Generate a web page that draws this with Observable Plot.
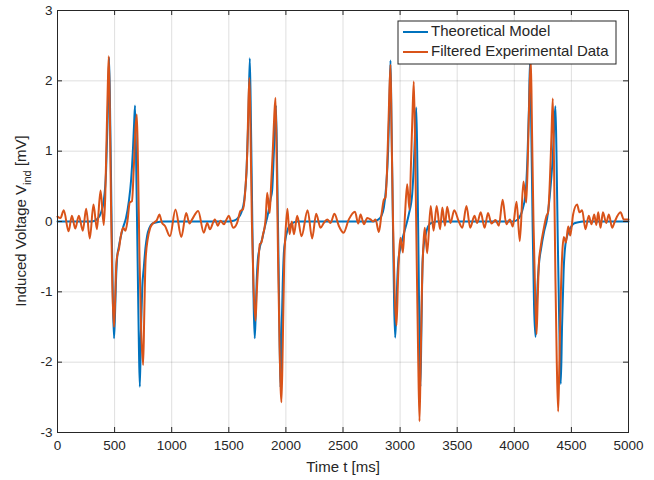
<!DOCTYPE html>
<html><head><meta charset="utf-8">
<script src="https://cdn.jsdelivr.net/npm/d3@7"></script>
<script src="https://cdn.jsdelivr.net/npm/@observablehq/plot@0.6"></script>
<style>
body{margin:0;background:#fff;}
#chart{width:654px;height:480px;}
svg{font-family:"Liberation Sans",Arial,Helvetica,sans-serif;}
</style></head><body><div id="chart"></div>
<script>
// ---- data ----
const seriesNames = ["Theoretical Model", "Filtered Experimental Data"];
const seriesColors = ["#0072BD", "#D95319"];
const xTicks = [0, 500, 1000, 1500, 2000, 2500, 3000, 3500, 4000, 4500, 5000];
const yTicks = [-3, -2, -1, 0, 1, 2, 3];
const xLabel = "Time t [ms]";

const modelTime = [0,300,345,380,405,425,440,452,462,474,486,495,504,512,522,537,552,575,600,625,645,660,671,679,690,702,713,721,730,742,756,770,785,805,830,870,920,
1500,1540,1575,1610,1635,1655,1672,1684,1694,1706,1718,1727,1736,1744,1754,1770,1792,1815,1835,1851,1866,1880,1895,1905,1913,1924,1936,1946,1953,1962,1972,1982,1996,2011,2030,2060,2100,
2760,2800,2837,2858,2878,2895,2907,2916,2925,2937,2948,2957,2966,2975,2985,3000,3020,3045,3076,3106,3120,3132,3142,3152,3162,3171,3178,3187,3196,3210,3225,3245,3275,3320,
3990,4030,4069,4098,4115,4128,4138,4148,4160,4173,4186,4195,4204,4215,4235,4260,4288,4317,4336,4348,4360,4369,4380,4393,4407,4418,4432,4448,4470,4492,4520,4560,4600,5000];
const modelVoltage = [0,0,0.03,0.12,0.3,0.7,1.5,2.33,1.4,0,-1.2,-1.66,-1.3,-0.85,-0.52,-0.36,-0.23,-0.08,0.05,0.29,0.6,1.0,1.4,1.65,0.7,-0.6,-1.8,-2.35,-1.6,-0.95,-0.65,-0.38,-0.2,-0.09,-0.03,-0.01,0,
0,0.01,0.04,0.13,0.3,0.7,1.5,2.32,1.4,0,-1.2,-1.66,-1.3,-0.85,-0.55,-0.38,-0.25,-0.08,0.05,0.17,0.32,0.45,1.0,1.4,1.65,0.7,-0.6,-1.8,-2.36,-1.6,-0.9,-0.45,-0.25,-0.14,-0.06,-0.02,0,
0,0.02,0.08,0.2,0.5,1.0,1.7,2.29,1.4,0,-1.2,-1.65,-1.3,-0.85,-0.55,-0.4,-0.25,-0.1,0.1,0.39,0.8,1.3,1.62,0.7,-0.6,-1.8,-2.35,-1.5,-0.6,-0.3,-0.18,-0.07,-0.02,0,
0,0.03,0.15,0.39,0.9,1.6,2.3,1.4,0,-1.2,-1.64,-1.3,-0.9,-0.62,-0.38,-0.15,0.05,0.48,0.9,1.3,1.64,1.0,-0.2,-1.4,-2.31,-1.5,-0.7,-0.32,-0.17,-0.09,-0.03,-0.01,0,0];

const expTime = [0,26,55,97,126,155,187,222,251,283,315,345,377,405,418,430,440,449,458,468,480,495,505,515,525,537,555,575,595,612,633,652,668,682,695,705,718,732,750,760,771,790,810,829,850,870,892,915,940,985,1033,1084,1127,1156,1179,1232,1281,1311,1334,1378,1404,1427,1457,1480,1500,1538,1573,1602,1623,1646,
1662,1672,1681,1690,1702,1716,1734,1745,1760,1772,1785,1800,1813,1823,1836,1858,1870,1885,1898,1909,1920,1932,1945,1961,1972,1985,1996,2013,2032,2052,2070,2099,2137,2190,2230,2265,2303,2332,2362,2391,2425,2463,2505,2551,2605,2633,2654,2683,2712,2741,2764,2785,2814,2837,2858,2872,
2885,2900,2916,2925,2938,2952,2969,2982,2993,3004,3025,3043,3062,3082,3095,3108,3120,3132,3145,3158,3170,3180,3192,3205,3216,3237,3268,3293,3320,3350,3370,3393,3412,3441,3474,3514,3545,3581,3614,3651,3675,3706,3740,3770,3800,3835,3865,3898,3930,3961,3987,4020,4048,4080,4105,
4120,4132,4145,4155,4168,4182,4195,4205,4215,4230,4259,4282,4296,4312,4325,4337,4348,4360,4372,4384,4395,4408,4420,4434,4452,4472,4490,4515,4550,4571,4594,4623,4652,4676,4700,4718,4735,4755,4776,4805,4828,4857,4880,4930,4959,5000];
const expVoltage = [0.07,0.05,0.16,-0.14,0.08,-0.1,0.08,-0.13,0.18,-0.24,0.24,-0.11,0.44,-0.05,0.35,1.2,1.9,2.35,1.6,0.3,-0.9,-1.5,-1.1,-0.6,-0.47,-0.4,-0.2,-0.09,-0.13,0,0.27,0.29,0.76,1.3,1.52,0.8,-0.5,-1.5,-2.04,-1.3,-0.56,-0.25,-0.1,-0.04,-0.01,0.02,0.1,-0.02,-0.06,-0.21,0.17,-0.22,0.12,-0.03,0.03,0.15,-0.16,-0.02,-0.11,0.03,-0.06,0.01,-0.04,0.03,0.08,-0.09,-0.02,0.15,0.17,0.48,
1.0,1.7,2.04,1.3,0,-0.9,-1.41,-1.0,-0.55,-0.32,-0.3,-0.18,-0.09,0.05,0.41,0.12,0.5,1.0,1.5,1.76,0.8,-0.6,-1.8,-2.57,-1.8,-0.6,-0.18,0.18,-0.18,0,-0.18,0.08,-0.21,0.16,-0.24,0.11,-0.09,-0.02,0.03,-0.02,0.11,-0.06,-0.16,0.03,0.14,-0.03,0.1,-0.04,0.05,0.03,0,0.03,-0.15,0.1,0.31,0.34,
0.7,1.5,2.23,1.3,0,-1.0,-1.48,-0.8,-0.4,-0.23,-0.44,0.1,0.53,0.17,0.8,1.5,1.99,1.0,-0.5,-1.9,-2.84,-2.0,-0.9,-0.3,-0.09,-0.45,0.22,-0.13,0.22,-0.11,0.2,-0.06,0.21,-0.02,0.16,0,-0.09,0.22,-0.09,0.08,-0.02,0.13,-0.09,0.12,-0.03,0.02,-0.06,0.31,-0.04,0.03,-0.07,0.28,-0.28,0.57,0.27,
1.0,1.8,2.3,1.3,0,-1.0,-1.6,-1.1,-0.6,-0.37,-0.09,0.08,0.13,0.6,1.2,1.75,0.8,-0.8,-2.0,-2.7,-2.0,-1.0,-0.45,-0.22,-0.3,-0.07,-0.2,0.1,0.24,0.13,0.16,-0.11,0.08,-0.04,0.1,-0.05,0.13,-0.09,0.13,-0.02,0.1,-0.09,0,0.13,0.03,0.03];

// ---- chart ----
const W = 654, H = 480, mL = 57, mR = 26, mT = 10, mB = 48;
const innerW = W - mL - mR, innerH = H - mT - mB;
const axisColor = "#262626";
const model = modelTime.map((t, i) => ({t, v: modelVoltage[i]}));
const exp = expTime.map((t, i) => ({t, v: expVoltage[i]}));

const svg = Plot.plot({
  width: W, height: H,
  marginLeft: mL, marginRight: mR, marginTop: mT, marginBottom: mB,
  style: {fontFamily: '"Liberation Sans", Arial, Helvetica, sans-serif', fontSize: "13.5px", color: axisColor, background: "#fff", overflow: "visible"},
  x: {domain: [0, 5000]},
  y: {domain: [-3, 3]},
  marks: [
    Plot.gridX(xTicks, {stroke: axisColor, strokeOpacity: 0.15, strokeWidth: 1}),
    Plot.gridY(yTicks, {stroke: axisColor, strokeOpacity: 0.15, strokeWidth: 1}),
    Plot.line(model, {x: "t", y: "v", stroke: seriesColors[0], strokeWidth: 2, curve: "monotone-x"}),
    Plot.line(exp, {x: "t", y: "v", stroke: seriesColors[1], strokeWidth: 2, curve: "monotone-x"}),
    Plot.axisX({ticks: xTicks, tickSize: 0, tickPadding: 8, label: null, fill: axisColor, tickFormat: d => String(d)}),
    Plot.axisY({ticks: yTicks, tickSize: 0, tickPadding: 5, label: null, fill: axisColor, tickFormat: d => String(d)}),
    Plot.tickX(xTicks, {x: d => d, insetBottom: innerH - 5, stroke: axisColor}),
    Plot.tickX(xTicks, {x: d => d, insetTop: innerH - 5, stroke: axisColor}),
    Plot.tickY(yTicks, {y: d => d, insetRight: innerW - 5, stroke: axisColor}),
    Plot.tickY(yTicks, {y: d => d, insetLeft: innerW - 5, stroke: axisColor}),
    Plot.frame({stroke: axisColor, strokeWidth: 1}),
    Plot.text([xLabel], {frameAnchor: "bottom", dy: 35, text: d => d, fontSize: 15, fill: axisColor, lineAnchor: "middle"})
  ]
});
document.getElementById("chart").appendChild(svg);

// y-axis label with subscript
const s = d3.select(svg);
const yl = s.append("text")
  .attr("transform", `translate(22,${mT + innerH / 2}) rotate(-90)`)
  .attr("text-anchor", "middle")
  .attr("dominant-baseline", "middle")
  .attr("fill", axisColor)
  .style("font-size", "15px");
yl.append("tspan").text("Induced Voltage V");
yl.append("tspan").attr("baseline-shift", "sub").style("font-size", "11px").text("ind");
yl.append("tspan").text(" [mV]");

// legend
const lg = s.append("g");
lg.append("rect").attr("x", 398).attr("y", 21).attr("width", 218).attr("height", 43)
  .attr("fill", "#fff").attr("stroke", axisColor).attr("stroke-width", 1);
seriesNames.forEach((name, i) => {
  const y = 32 + i * 20;
  lg.append("line").attr("x1", 403).attr("x2", 428).attr("y1", y).attr("y2", y)
    .attr("stroke", seriesColors[i]).attr("stroke-width", 2);
  lg.append("text").attr("x", 431).attr("y", y).attr("dominant-baseline", "middle")
    .attr("text-anchor", "start")
    .attr("fill", axisColor).style("font-size", "15px").text(name);
});
</script></body></html>
